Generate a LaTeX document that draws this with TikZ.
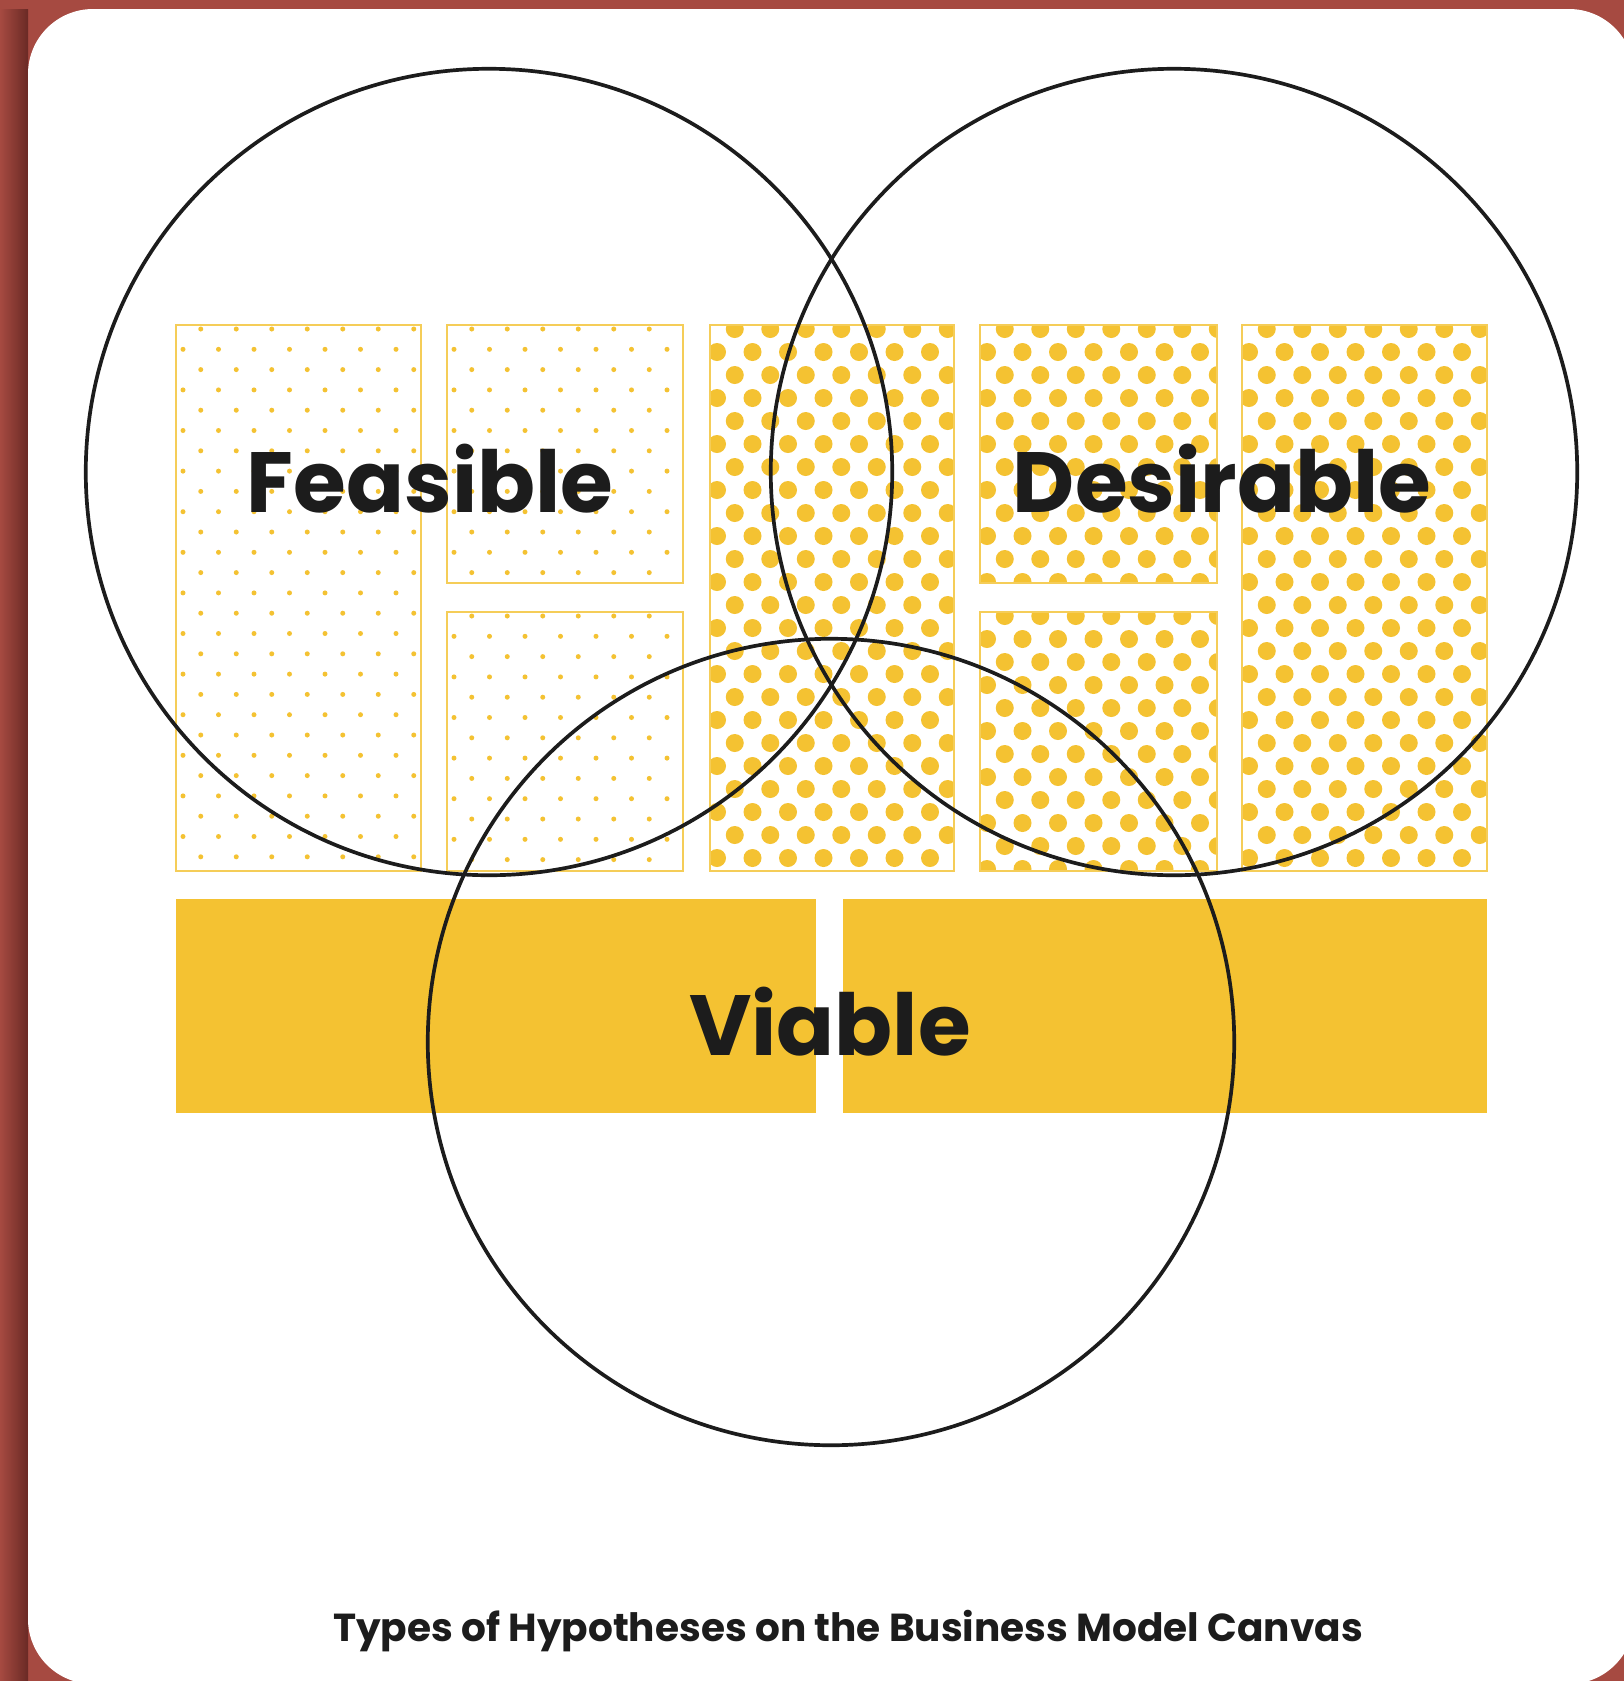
\documentclass[tikz,border=0pt]{standalone}
\usepackage{fontspec}
\newfontfamily\vennfont{Poppins}
\usetikzlibrary{positioning}

\definecolor{frame}{HTML}{A64A41}
\definecolor{frameshadow}{HTML}{6A2A25}
\definecolor{canvasyellow}{HTML}{F4C232}
\definecolor{canvasline}{HTML}{F5CD58}
\definecolor{ink}{HTML}{1C1C1C}

\tikzset{
  dotfill/.style={fill=canvasyellow},
  boxline/.style={draw=canvasline, line width=0.7pt},
  barfill/.style={fill=canvasyellow},
  ring/.style={draw=ink, circle, line width=1.05pt, minimum size=8.06cm, inner sep=0pt},
  biglabel/.style={text=ink, anchor=base, font=\vennfont\bfseries\fontsize{24.3}{29}\selectfont},
  caption/.style={text=ink, anchor=base, font=\vennfont\bfseries\fontsize{11.1}{13}\selectfont}
}

\newcommand{\dotbox}[6]{%
  \begin{scope}
    \clip (#1,#2) rectangle (#3,#4);
    \foreach \j in {0,...,30}{
      \pgfmathsetmacro{\rowy}{#2+4+#6*\j}
      \pgfmathsetmacro{\rowx}{#1+7+17.75*mod(\j+1,2)}
      \foreach \i in {0,...,7}
        \fill[dotfill] (\rowx+35.5*\i,\rowy) circle[radius=#5];
    }
  \end{scope}
  \draw[boxline] (#1,#2) rectangle (#3,#4);
}

\begin{document}
\begin{tikzpicture}[x=0.01cm, y=-0.01cm]
  \useasboundingbox (0,0) rectangle (1624,1681);
  \fill[frame] (0,0) rectangle (1624,1681);
  \shade[left color=frame, right color=frameshadow] (0,0) rectangle (28,1681);
  \fill[frame] (0,0) rectangle (1624,9);
  \fill[white, rounded corners=0.65cm] (28,9) rectangle (1634,1684);

  \dotbox{176}{325}{421}{871}{2.5}{20.3}
  \dotbox{447}{325}{683}{583}{2.5}{20.3}
  \dotbox{447}{612}{683}{871}{2.5}{20.3}
  \dotbox{710}{325}{954}{871}{9}{23}
  \dotbox{980}{325}{1217}{583}{9}{23}
  \dotbox{980}{612}{1217}{871}{9}{23}
  \dotbox{1242}{325}{1487}{871}{9}{23}

  \fill[barfill] (176,899) rectangle (816,1113);
  \fill[barfill] (843,899) rectangle (1487,1113);

  \node[ring] (feasible) at (489,472) {};
  \node[ring] (desirable) at (1174,472) {};
  \node[ring] (viable) at (831,1042) {};

  \node[biglabel] (feasiblelabel) at (430,512) {Feasible};
  \node[biglabel] (desirablelabel) at (1222,512) {Desirable};
  \node[biglabel] (viablelabel) at (830,1055) {Viable};

  \node[caption] (title) at (848,1641) {Types of Hypotheses on the Business Model Canvas};
\end{tikzpicture}
\end{document}
